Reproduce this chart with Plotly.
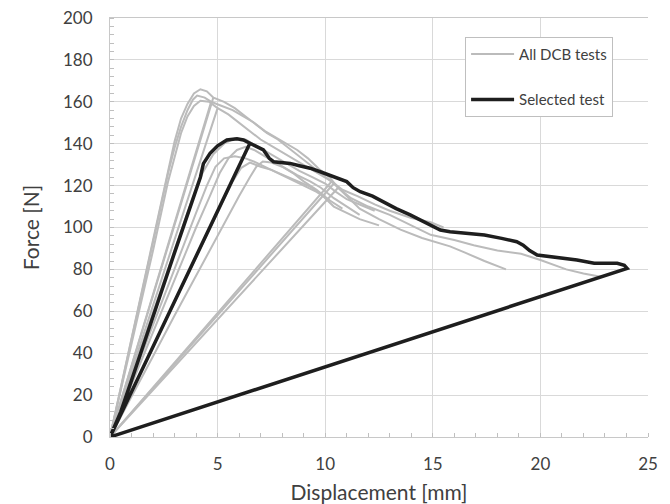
import plotly.graph_objects as go

# ---- data ----
# Gray tests: lists of (displacement [mm], force [N]) points
test_a1 = [(0,0),(1.0,47),(2.0,95),(2.7,128),(3.0,141),(3.3,152),(3.6,159),(3.9,164),(4.2,166),(4.5,165),(4.8,162),
           (0,0),(4.8,162),(5.3,160),(5.8,157),(6.3,153),(6.8,149),(7.3,145),(7.8,142),(8.3,138),(8.8,134),(9.3,130),
           (9.8,126),(10.4,121),(0,0),(10.4,121),(11.0,115),(11.6,109),(12.5,104),(13.5,99),(14.5,95),(15.8,91),
           (16.5,88),(17.4,84),(18.4,80)]
test_a2 = [(0,0),(1.0,46),(2.0,93),(2.7,126),(3.0,138),(3.3,148),(3.6,156),(3.85,161),(4.05,163),(4.4,162),(4.7,160),
           (0,0),(4.7,160),(5.2,158),(5.7,156),(6.2,153),(6.7,150),(7.2,146),(7.7,143),(8.2,140),(8.7,137),(9.2,133),
           (9.7,128),(10.2,124),(10.6,119),(0,0),(10.6,119),(11.2,114),(12.0,110),(13.0,106),(14.0,101),(14.9,96.5),
           (16.0,94),(16.9,91.5),(18.0,89),(19.1,87.5),(20.0,84.5),(21.2,80),(22.0,78),(22.8,76.5)]
test_a3 = [(0,0),(1.0,44),(2.0,89),(2.7,122),(3.0,134),(3.3,145),(3.6,153),(3.9,158),(4.2,160.5),(4.6,160),(5.0,157),
           (0,0),(5.0,157),(5.5,154),(6.0,150),(6.5,146),(7.0,142),(7.5,139),(8.0,136),(8.5,133),(9.0,130),(9.5,127),
           (10.0,124),(10.3,122),(0,0),(10.3,122),(10.8,118),(11.5,115),(12.3,111),(13.0,108),(14.0,104.5),
           (14.9,102.5),(15.5,100)]
test_b1 = [(0,0),(1,30),(2,60),(3,90),(3.8,113),(4.3,126),(4.8,135),(5.3,140),(5.8,142.5),(6.3,142),(6.8,139),
           (7.3,136),(7.8,133),(8.3,130),(8.8,127),(9.4,124),(10.0,121),(10.5,117),(11.0,113.5),(11.6,111),(12.3,108)]
test_b2 = [(0,0),(1,25),(2,50),(3,75),(4,100),(4.6,114),(5.1,126),(5.5,133),(5.9,137),(6.3,138.5),(6.7,137),
           (7.2,134),(7.7,131),(8.2,128),(8.7,125),(9.3,122),(9.8,119),(10.4,114),(11.0,110),(11.6,106)]
test_b3 = [(0,0),(1,21.5),(2,43),(3,64.5),(4,86),(5,107.5),(5.7,122),(6.1,128.5),(6.5,131),(7.0,129),(7.5,127.5),
           (8.06,125),(8.7,122),(9.3,119.5),(9.8,116),(10.4,110),(11.0,107),(11.6,104),(12.5,101)]
test_b4 = [(0,0),(1,19),(2,38.5),(3,58),(4,77),(5,96.5),(6,115),(6.5,124),(6.8,129),(7.1,131.5),(7.5,131),
           (8.0,129),(8.5,126),(9.0,122),(9.6,118),(10.2,113)]
test_b5 = [(0,0),(1,27),(2,54),(3,81),(4,107),(4.5,120),(4.9,129),(5.3,133),(5.8,134),(6.3,133),(6.8,131),
           (7.3,128.5),(7.8,126),(8.4,123),(9.0,120),(9.6,117),(10.2,113),(10.8,109)]
gray_tests = [test_a1, test_a2, test_a3, test_b1, test_b2, test_b3, test_b4, test_b5]

selected_test = [(0,0),(0.5,12),(1.0,27),(2.0,58),(3.0,88),(3.8,112),(4.2,124),(4.34,130.5),(4.65,135.4),(5.0,139),
                 (5.43,141.8),(5.9,142.3),(6.2,141.8),(6.5,140.2),(0,0),(6.5,140.2),(7.13,137),(7.4,133),(7.6,131.4),
                 (8.37,130.6),(8.8,129.5),(9.3,128.3),(9.8,126.5),(10.23,125),(10.6,123.5),(11.0,121.9),(11.3,119),
                 (11.63,117.1),(12.2,115),(12.7,112.3),(13.3,109),(13.95,106),(14.7,102),(15.35,98.8),(15.8,98),
                 (16.6,97),(17.4,96.4),(18.2,94.8),(18.9,93.2),(19.2,91.6),(19.5,89),(19.85,86.9),(20.47,86.1),
                 (21.1,85.3),(21.7,84.5),(22.5,82.9),(23.0,82.8),(23.57,82.9),(23.9,82),(24.03,80.5),(0,0)]

x_ticks = [0, 5, 10, 15, 20, 25]
y_ticks = [0, 20, 40, 60, 80, 100, 120, 140, 160, 180, 200]

FONT = "Lato"
TXT = "#404040"
fig = go.Figure()
for i, t in enumerate(gray_tests):
    fig.add_trace(go.Scatter(
        x=[p[0] for p in t], y=[p[1] for p in t], mode="lines",
        line=dict(color="#BBBBBB", width=2),
        name="All DCB tests", legendgroup="g1", showlegend=(i == 0)))
fig.add_trace(go.Scatter(
    x=[p[0] for p in selected_test], y=[p[1] for p in selected_test], mode="lines",
    line=dict(color="#1E1E1E", width=3.5),
    name="Selected test", legendgroup="g2"))

axis_common = dict(
    showgrid=True, gridcolor="#D9D9D9", gridwidth=1,
    showline=True, linecolor="#C8C8C8", linewidth=1,
    ticks="", zeroline=False, automargin=False, ticklabeloverflow="allow",
    tickfont=dict(family=FONT, size=17, color=TXT),
)
fig.update_xaxes(range=[0, 25], tickvals=x_ticks, ticklabelstandoff=12, mirror=True,
                 title=dict(text="Displacement [mm]", font=dict(family=FONT, size=21, color=TXT), standoff=12),
                 minor=dict(dtick=1, ticks="inside", ticklen=4, tickcolor="#BFBFBF", showgrid=False),
                 **axis_common)
fig.update_yaxes(range=[0, 200], tickvals=y_ticks, ticklabelstandoff=13, mirror=False,
                 title=dict(text="Force [N]", font=dict(family=FONT, size=21, color=TXT), standoff=17),
                 minor=dict(dtick=4, ticks="inside", ticklen=4, tickcolor="#BFBFBF", showgrid=False),
                 **axis_common)

# page body has an 8px default margin, so the figure is sized to fit the 670x504 window
fig.update_layout(
    width=662, height=496,
    margin=dict(l=102, r=22, t=10, b=67),
    paper_bgcolor="white", plot_bgcolor="white",
    font=dict(family=FONT, color=TXT),
    legend=dict(x=0.66, y=0.955, xanchor="left", yanchor="top",
                bgcolor="white", bordercolor="#BFBFBF", borderwidth=1,
                font=dict(family=FONT, size=15, color=TXT),
                tracegroupgap=23, itemwidth=43),
    showlegend=True,
)
fig.write_html("out.html")
